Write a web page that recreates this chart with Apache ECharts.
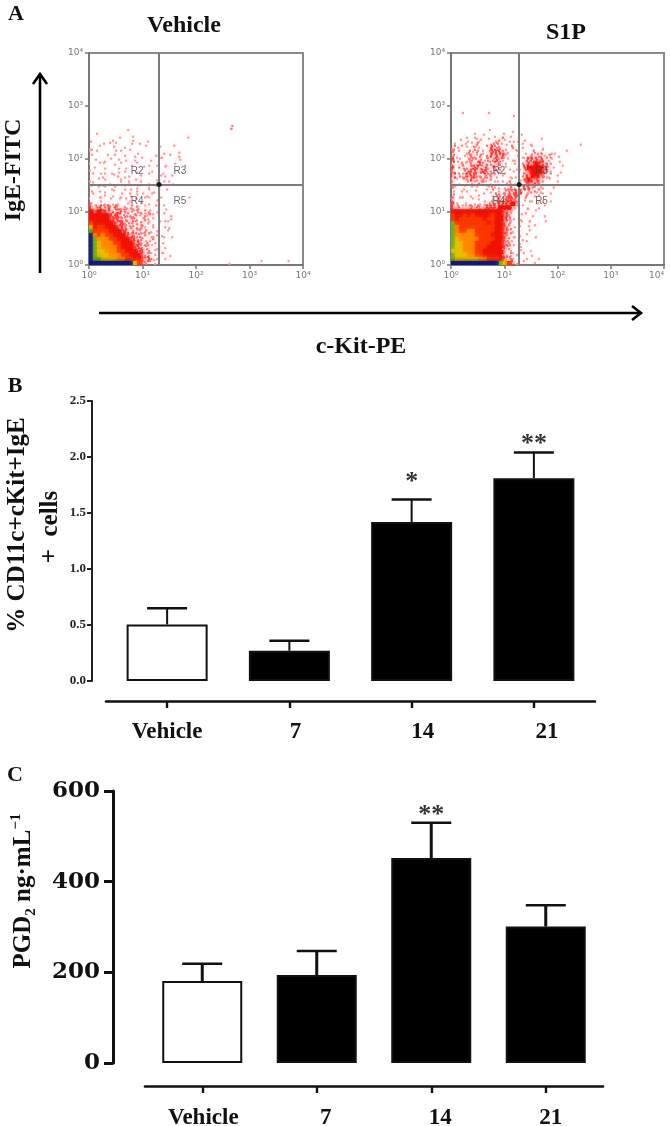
<!DOCTYPE html>
<html>
<head>
<meta charset="utf-8">
<style>html,body{margin:0;padding:0;background:#fff}#c{width:670px;height:1126px;filter:blur(0.7px)}</style>
<script src="https://cdn.jsdelivr.net/npm/echarts@6/dist/echarts.min.js"></script>
</head>
<body>
<div id="c"></div>
<script>
// ---- data ----
const groups = ['Vehicle', '7', '14', '21'];
const cellsMean = [0.505, 0.27, 1.42, 1.81];
const cellsErrTop = [0.65, 0.36, 1.62, 2.04];
const cellsSig = ['', '', '*', '**'];
const cellsSigAt = [0, 0, 1.77, 2.11];
const pgd2Mean = [181, 194, 452, 301];
const pgd2ErrTop = [219, 247, 530, 348];
const pgd2Sig = ['', '', '**', ''];
const pgd2SigAt = [0, 0, 547, 0];
const barFills = ['#ffffff', '#000000', '#000000', '#000000'];
const decadeLabels = ['10⁰', '10¹', '10²', '10³', '10⁴'];
const regionNames = ['R2', 'R3', 'R4', 'R5'];
const regionX = [0.9, 1.7, 0.9, 1.7];
const regionY = [1.77, 1.77, 1.21, 1.21];
const gateVehicle = [1.31, 1.52];
const gateS1P = [1.28, 1.52];
// density: one string per row of bins, first string = top row (row 38), '.' empty
const binDecades = 0.075;
const vehicleRows = [
'','','','',
'...................................2',
'.........1',
'..1....1..1.............1',
'1....1....1...1',
'...1.11...1.1........1',
'1.1...1.1.....1..1',
'1.1...1.1.1.1.....1...1',
'1...1.1..1.1.1..11..1.1',
'.1.1.1.1.1.1...1..1...1',
'1.11..1.1.1.1...1..1.1',
'.1..1..1.1...1.1...1....1',
'1.1..1.1.1..1..1..1.....................................................1',
'.1.11.11..1..1.1.1.11',
'1.1.1..1.1.11...11.1',
'.1.1.1.1.11.1.1.1.1.1',
'1.1.1.1.1.1.1.1.11.1',
'1.11.11.1.1.11.11',
'.1.1.1.11.1.1.11.1',
'1.11.1.1.1.1.1.1.1.......1',
'2.1.11.1.11.1.1.1',
'3232323221212.1.1.1',
'4343332322212121.1.1',
'44444333222212121.1.1',
'444443332222121.1.1.1',
'5444443332221211.1.1',
'74554443322212111.1.1',
'8555544433222121.1.1',
'96565544433221211.1',
'98666554443322121.1.1',
'98766655444332211.1',
'987666654443322111.1',
'9877666554443321111',
'98777666554443211.1.1',
'988777766554433211.1',
'999999999997532.1.................1.......1......1'
];
const s1pRows = [
'..1......1',
'...............1',
'','','',
'.........1.....1',
'...1.11.1.1.11.1.1',
'..1.1.11.1.1211.1.1...1',
'1.11.121.12211.1.1.11...........1',
'211.1211.23221.21.1.1.1',
'2.11212.1233321.1.1.2.11.1...1',
'21.122121233321.11.1222121.1',
'3.112222122321111.13333211.1',
'21212223222321.11.23343321.1',
'3.2223323222111.1.34444321',
'21123333322121.1.123444321.1',
'3.2233222221.11.1.2344321.1',
'21.22322121.1.11.13433211.1',
'2.11121211.1.1211.233321',
'21.1.11.11211122.1332211.1',
'1.1.1.1.11.1122233.2211.1',
'2.1.1.1.1.1222333.2.11.1',
'2.11.11.1.1223332.1.1.1.1',
'31.1.1.11223333421.1.1.1',
'3211222233334441.1.1..1',
'4444444444444321.1.1.1',
'5445454444544321.11.1..1',
'5455555545544321.1.1...1',
'8555555554544321.1.1',
'8655555555544321.1.1.1',
'8655665555544321.1.1',
'8666665555444321.1.1.1',
'8766666555544321.1',
'8776665555444321.1.1',
'8776665554444321.1',
'7776665544444211.1.1',
'87776655444442211.1.1',
'8777777665554321.1.1.1',
'99999999999987531.1.1'
];
const levelColors = {1:'#ff9a9a',2:'#ff7272',3:'#ff3c3c',4:'#f01508',5:'#fb3a00',6:'#ff8a00',7:'#e8c000',8:'#6fb020',9:'#101a80'};
const levelHaze = {1:'rgba(255,110,110,0.06)',2:'rgba(255,90,90,0.16)',3:'rgba(255,60,60,0.32)'};

// ---- helpers ----
const serif = '"Liberation Serif"';
function cellsFromRows(rows){
  const out=[];
  rows.forEach((row,i)=>{
    const r=rows.length-1-i;
    for(let c=0;c<row.length;c++){
      const l=row[c];
      if(l!=='.') out.push([(c+0.5)*binDecades,(r+0.5)*binDecades,+l,r,c]);
    }
  });
  return out;
}
function renderDensity(params,api){
  const lvl=api.value(2), p=api.coord([api.value(0),api.value(1)]);
  const s=api.size([binDecades,binDecades]);
  const col=levelColors[lvl];
  if(lvl<=3){
    // sparse bins: as many dots as the level, spread inside the bin
    const r=api.value(3), c=api.value(4);
    const kids=[{type:'rect',shape:{x:p[0]-s[0]/2,y:p[1]-s[1]/2,width:s[0],height:s[1]},style:{fill:levelHaze[lvl]}}];
    for(let k=0;k<lvl;k++){
      const h=(c*c*31+r*r*17+c*r*13+k*41+c*5+r*3)%97;
      kids.push({type:'circle',shape:{cx:p[0]+h%5-2,cy:p[1]+((h*7)>>2)%5-2,r:1.2},style:{fill:col}});
    }
    return {type:'group',children:kids};
  }
  return {type:'rect',shape:{x:p[0]-s[0]/2,y:p[1]-s[1]/2,width:s[0]+0.6,height:s[1]+0.6},style:{fill:col,shadowBlur:4,shadowColor:col}};
}
function flowAxes(gi){
  const base={type:'value',min:0,max:4,interval:1,gridIndex:gi,splitLine:{show:false},
    axisLine:{show:true,onZero:false,lineStyle:{color:'#777',width:2}},
    axisTick:{show:true,length:4,lineStyle:{color:'#777',width:1.5}},
    axisLabel:{color:'#777',fontSize:9,fontFamily:'"DejaVu Sans"',margin:6,showMinLabel:true,showMaxLabel:true,formatter:v=>decadeLabels[v]}};
  return {x:Object.assign({},base),y:Object.assign({},base)};
}
function flowSeries(ai,rows,gate){
  return [
   {type:'custom',xAxisIndex:ai,yAxisIndex:ai,data:cellsFromRows(rows),renderItem:renderDensity,progressive:0,silent:true,clip:true,
    encode:{x:0,y:1},z:2,
    markLine:{silent:true,symbol:'none',animation:false,label:{show:false},lineStyle:{color:'#7c7c7c',width:2,type:'solid'},data:[{xAxis:gate[0]},{yAxis:gate[1]}],z:4}},
   {type:'scatter',xAxisIndex:ai,yAxisIndex:ai,data:[gate],symbolSize:5,itemStyle:{color:'#000'},silent:true,z:5},
   {type:'scatter',xAxisIndex:ai,yAxisIndex:ai,symbolSize:0,silent:true,z:6,
    data:regionNames.map((n,i)=>[regionX[i],regionY[i],n]),
    label:{show:true,position:'inside',formatter:p=>p.value[2],color:'#444',fontSize:10,fontFamily:'"Liberation Sans"'}}
  ];
}
function errorSeries(ai,means,errTop,sig,sigAt,lw){
  return {type:'custom',xAxisIndex:ai,yAxisIndex:ai,silent:true,z:3,
    data:errTop.map((v,i)=>[i,v,means[i],sigAt[i]]),
    encode:{x:0,y:1},
    renderItem(params,api){
      const x=api.value(0), top=api.coord([x,api.value(1)]), base=api.coord([x,api.value(2)]);
      const kids=[
        {type:'line',shape:{x1:top[0],y1:top[1],x2:base[0],y2:base[1]},style:{stroke:'#111',lineWidth:lw}},
        {type:'line',shape:{x1:top[0]-20,y1:top[1],x2:top[0]+20,y2:top[1]},style:{stroke:'#111',lineWidth:2.4}}
      ];
      const s=sig[params.dataIndex];
      if(s){
        const sp=api.coord([x,api.value(3)]);
        kids.push({type:'text',style:{text:s,x:top[0],y:sp[1],align:'center',verticalAlign:'middle',fill:'#333',font:'bold 26px '+serif}});
      }
      return {type:'group',children:kids};
    }};
}
function barAxis(gi,offset,shifts,margin){
  const rich={};
  shifts.forEach((s,i)=>{rich['t'+i]={fontFamily:serif,fontWeight:'bold',fontSize:23,color:'#111',padding:[0,0,0,2*s]};});
  return {type:'category',data:groups,gridIndex:gi,offset:offset,
    axisLine:{show:true,onZero:false,lineStyle:{color:'#111',width:2.6}},
    axisTick:{show:true,alignWithLabel:true,length:7,lineStyle:{color:'#111',width:2.4}},
    axisLabel:{margin:margin,interval:0,formatter:(v,i)=>'{t'+i+'|'+v+'}',rich:rich}};
}
function barSeries(ai,vals,w){
  return {type:'bar',xAxisIndex:ai,yAxisIndex:ai,barWidth:w,silent:true,z:2,
    data:vals.map((v,i)=>({value:v,itemStyle:{color:barFills[i],borderColor:'#111',borderWidth:2}}))};
}
function title(text,x,y,size,rot){
  return {type:'text',x:x,y:y,rotation:rot||0,style:{text:text,align:'center',verticalAlign:'middle',fill:'#111',font:'bold '+size+'px '+serif}};
}
function arrow(pts,head){
  return [{type:'polyline',shape:{points:pts},style:{stroke:'#000',fill:null,lineWidth:2.6}},
          {type:'polyline',shape:{points:head},style:{stroke:'#000',fill:null,lineWidth:2.6}}];
}

const fV=flowAxes(0), fS=flowAxes(1);
fS.x.axisLabel=Object.assign({},fS.x.axisLabel,{alignMaxLabel:'right'});
const option={
  animation:false,backgroundColor:'#fff',
  grid:[
    {left:89,top:53,width:214,height:212,outerBoundsMode:'none',show:true,borderColor:'#8a8a8a',borderWidth:2,backgroundColor:'transparent'},
    {left:451,top:53,width:213,height:212,outerBoundsMode:'none',show:true,borderColor:'#8a8a8a',borderWidth:2,backgroundColor:'transparent'},
    {left:106,top:401,width:489,height:280,outerBoundsMode:'none'},
    {left:145,top:791,width:458,height:272,outerBoundsMode:'none'}
  ],
  xAxis:[fV.x,fS.x,barAxis(2,20,[0,6,11,13],20),barAxis(3,23,[1,9,9,5],21)],
  yAxis:[fV.y,fS.y,
    {type:'value',gridIndex:2,min:0,max:2.5,interval:0.5,offset:14,splitLine:{show:false},
     axisLine:{show:true,onZero:false,lineStyle:{color:'#222',width:2}},axisTick:{show:true,length:5,lineStyle:{color:'#222',width:2}},
     axisLabel:{margin:6,color:'#222',fontFamily:serif,fontWeight:'bold',fontSize:13,showMinLabel:true,showMaxLabel:true,formatter:v=>v.toFixed(1)}},
    {type:'value',gridIndex:3,min:0,max:600,interval:200,offset:32,splitLine:{show:false},
     axisLine:{show:true,onZero:false,lineStyle:{color:'#111',width:3}},axisTick:{show:true,length:9,lineStyle:{color:'#111',width:3}},
     axisLabel:{margin:13,color:'#111',fontFamily:'"DejaVu Serif"',fontWeight:'bold',fontSize:23,showMinLabel:true,showMaxLabel:true}}
  ],
  series:[].concat(
    flowSeries(0,vehicleRows,gateVehicle),
    flowSeries(1,s1pRows,gateS1P),
    [barSeries(2,cellsMean,81),errorSeries(2,cellsMean,cellsErrTop,cellsSig,cellsSigAt,2),
     barSeries(3,pgd2Mean,80),errorSeries(3,pgd2Mean,pgd2ErrTop,pgd2Sig,pgd2SigAt,3)]
  ),
  graphic:[].concat(
    [title('A',16,14,22),title('Vehicle',184,26,24),title('S1P',566,33,24),
     title('c-Kit-PE',361,347,24),title('IgE-FITC',14,170,24,Math.PI/2),
     title('B',15,386,22),title('C',15,775,22),
     title('% CD11c+cKit+IgE',18,525,25,Math.PI/2),
     title('+  cells',51,527,25,Math.PI/2),
     {type:'text',x:24,y:891,rotation:Math.PI/2,style:{align:'center',verticalAlign:'middle',
       rich:{n:{font:'bold 25px '+serif,fill:'#111'},s:{font:'bold 15px '+serif,fill:'#111',verticalAlign:'bottom',lineHeight:14},u:{font:'bold 15px '+serif,fill:'#111',verticalAlign:'top',lineHeight:30}},
       text:'{n|PGD}{s|2}{n| ng·mL}{u|−1}'}}],
    arrow([[40,273],[40,74]],[[33,84],[40,74],[47,84]]),
    arrow([[99,313],[640,313]],[[632,306],[641,313],[632,320]])
  )
};
const chart=echarts.init(document.getElementById('c'),null,{renderer:'canvas'});
chart.setOption(option);
</script>
</body>
</html>
